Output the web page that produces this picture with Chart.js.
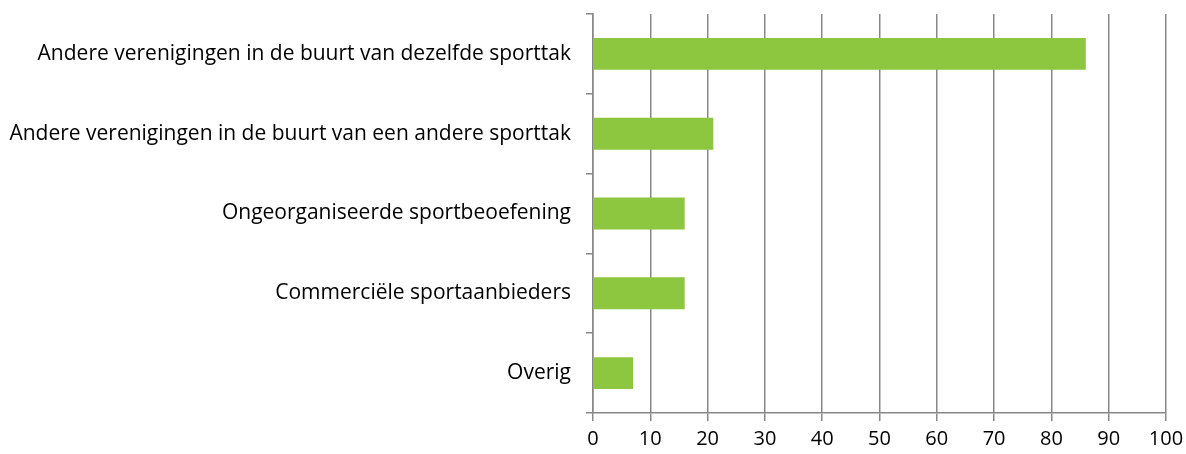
<!DOCTYPE html>
<html>
<head>
<meta charset="utf-8">
<script src="https://cdn.jsdelivr.net/npm/chart.js@4/dist/chart.umd.min.js"></script>
<style>
  html, body { margin: 0; padding: 0; background: #fff; }
  #wrap { width: 1186px; height: 454px; position: relative; }
</style>
</head>
<body>
<div id="wrap"><canvas id="chart"></canvas></div>
<script>
(function () {
  'use strict';

  var categories = [
    'Andere verenigingen in de buurt van dezelfde sporttak',
    'Andere verenigingen in de buurt van een andere sporttak',
    'Ongeorganiseerde sportbeoefening',
    'Commerciële sportaanbieders',
    'Overig'
  ];
  var values = [86, 21, 16, 16, 7];
  var xTicks = [0, 10, 20, 30, 40, 50, 60, 70, 80, 90, 100];

  var axisColor = '#878787';
  var fontFamily = "'Open Sans', sans-serif";

  new Chart(document.getElementById('chart'), {
    type: 'bar',
    data: {
      labels: categories,
      datasets: [{
        data: values,
        backgroundColor: '#8dc63f',
        borderWidth: 0,
        categoryPercentage: 1,
        barPercentage: 0.4
      }]
    },
    options: {
      indexAxis: 'y',
      responsive: true,
      maintainAspectRatio: false,
      animation: false,
      layout: { padding: { top: 14, right: 20, left: 0, bottom: 0 } },
      plugins: {
        legend: { display: false },
        tooltip: { enabled: false }
      },
      scales: {
        x: {
          min: 0,
          max: 100,
          afterBuildTicks: function (s) {
            s.ticks = xTicks.map(function (v) { return { value: v }; });
          },
          afterFit: function (s) { s.height = 41; s.paddingLeft = 0; s.paddingRight = 0; },
          grid: { color: axisColor, lineWidth: 1.5, tickLength: 8, drawTicks: true },
          border: { display: true, color: axisColor, width: 1.5 },
          ticks: { color: '#000', padding: 6, font: { family: fontFamily, size: 20 } }
        },
        y: {
          afterFit: function (s) { s.width = 593; s.paddingTop = 0; s.paddingBottom = 0; },
          grid: { color: axisColor, lineWidth: 1.5, drawOnChartArea: false, tickLength: 7, offset: true },
          border: { display: true, color: axisColor, width: 1.5 },
          ticks: { color: '#000', padding: 15, font: { family: fontFamily, size: 21 } }
        }
      }
    }
  });
})();
</script>
</body>
</html>
